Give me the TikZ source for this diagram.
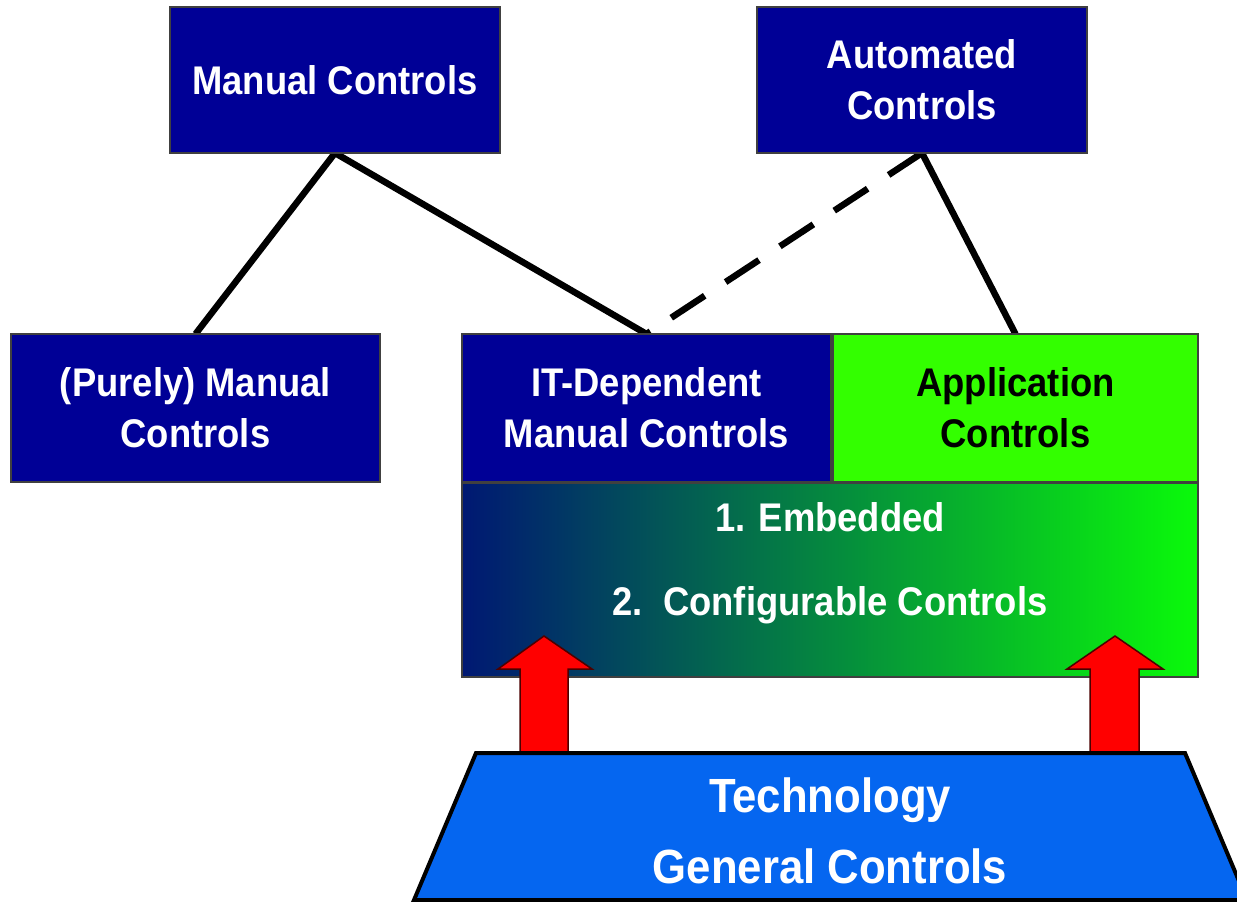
\documentclass[tikz,border=0pt]{standalone}
\usepackage{fontspec}
\newfontfamily\diafont{Liberation Sans}[FakeStretch=0.91]
\usetikzlibrary{backgrounds,calc}
\definecolor{navy}{RGB}{0,0,150}
\definecolor{appgreen}{RGB}{51,255,0}
\definecolor{gradleft}{RGB}{0,24,115}
\definecolor{gradright}{RGB}{10,250,10}
\definecolor{techblue}{RGB}{5,102,240}
\definecolor{arrowred}{RGB}{255,0,0}
\begin{document}
\begin{tikzpicture}[x=1pt,y=-1pt,
  box/.style={rectangle, inner sep=0pt, outer sep=0pt, draw=black!75, line width=1.5pt,
    fill=navy, text=white, align=center,
    font=\diafont\bfseries\fontsize{40}{51}\selectfont},
  link/.style={line width=6.5pt, black},
  dashlink/.style={link, dash pattern=on 40pt off 25pt},
  blockarrow/.style={fill=arrowred, draw=black!70!red, line width=1.5pt, line join=miter},
  techshape/.style={fill=techblue, draw=black, line width=4pt, line join=miter},
  labeltext/.style={inner sep=0pt, text=white, align=center},
]
\path[use as bounding box] (0,0) rectangle (1237,902);
% boxes
\node[box, minimum width=330pt, minimum height=146pt] (man) at (335,80) {Manual Controls};
\node[box, minimum width=330pt, minimum height=146pt] (auto) at (922,80) {Automated\\Controls};
\node[box, minimum width=369pt, minimum height=148pt] (pure) at (195.5,408) {(Purely) Manual\\Controls};
\node[box, minimum width=369pt, minimum height=148pt] (itdm) at (646.5,408) {IT-Dependent\\Manual Controls};
\node[box, fill=appgreen, text=black, minimum width=365pt, minimum height=148pt] (app) at (1015.5,408) {Application\\Controls};
\node[rectangle, inner sep=0pt, outer sep=0pt, draw=black!75, line width=1.5pt,
  minimum width=736pt, minimum height=194pt, left color=gradleft, right color=gradright] (emb) at (830,580) {};
\node[labeltext, font=\diafont\bfseries\fontsize{40}{84}\selectfont] (embtxt) at (830,563) {1. Embedded\\2.\ \ Configurable Controls};

% connectors
\begin{scope}[on background layer]
  \fill[white] (0,0) rectangle (1237,902);
  \draw[link] (man.south) -- (pure.north);
  \draw[link] (man.south) -- (itdm.north);
  \draw[link] (auto.south) -- (app.north);
  \draw[dashlink] (auto.south) -- (itdm.north);
\end{scope}

% red block arrows
\coordinate (la) at (544,753);
\coordinate (ra) at (1115,753);
\draw[blockarrow] (la) ++(-24,0) -- ++(0,-84) -- ++(-22,0) -- ++(46,-33) -- ++(48,33) -- ++(-24,0) -- ++(0,84) -- cycle;
\draw[blockarrow] (ra) ++(-25,0) -- ++(0,-84) -- ++(-23,0) -- ++(48,-33) -- ++(48,33) -- ++(-24,0) -- ++(0,84) -- cycle;

% technology general controls
\draw[techshape] (476,753) -- (1185,753) -- (1247,900) -- (414,900) -- cycle;
\node[labeltext, font=\diafont\bfseries\fontsize{48}{71}\selectfont] (tech) at (830,831) {Technology\\General Controls};
\end{tikzpicture}
\end{document}
